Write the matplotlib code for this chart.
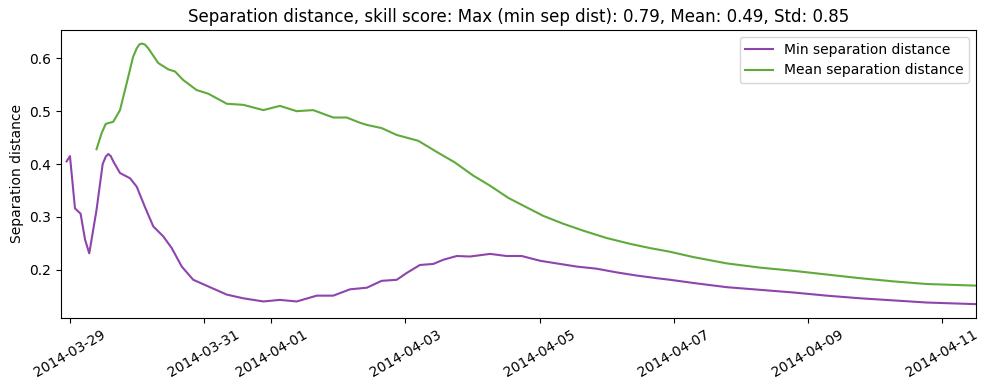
import numpy as np
import matplotlib
matplotlib.use("Agg")
import matplotlib.pyplot as plt
import matplotlib.dates as mdates

## Donnees (heures depuis 2014-03-29 00:00)

t0 = np.datetime64("2014-03-29T00:00")

h_min = [-1.2, 0, 1.8, 3.8, 5.4, 6.9, 9.5, 11.7, 12.8, 13.7, 14.6, 15.5, 17.9,
         21.5, 23.9, 26.8, 29.8, 33.4, 36.4, 40.0, 44.1, 50.1, 56.1, 62.0, 69.2,
         75.1, 81.1, 88.3, 94.2, 100.2, 106.2, 111.5, 116.9, 120.5, 125.2,
         130.0, 133.6, 138.4, 143.1, 150.3, 156.2, 161.6, 168.2, 174.1, 181.3,
         188.4, 195.6, 202.8, 209.9, 214.7, 223.0, 235.0, 246.9, 258.8, 270.7,
         282.7, 294.6, 306.5, 323.8]
d_min = [0.405, 0.415, 0.316, 0.306, 0.257, 0.231, 0.313, 0.400, 0.414, 0.419,
         0.415, 0.405, 0.383, 0.373, 0.357, 0.319, 0.282, 0.263, 0.241, 0.206,
         0.181, 0.167, 0.153, 0.146, 0.140, 0.143, 0.140, 0.151, 0.151, 0.163,
         0.166, 0.179, 0.181, 0.194, 0.209, 0.211, 0.219, 0.226, 0.225, 0.230,
         0.226, 0.226, 0.217, 0.212, 0.206, 0.202, 0.195, 0.189, 0.184, 0.181,
         0.175, 0.167, 0.162, 0.157, 0.151, 0.146, 0.142, 0.138, 0.135]

h_mean = [9.5, 11.3, 12.8, 15.5, 17.9, 20.3, 22.6, 23.9, 24.8, 25.7, 26.8, 28.0,
          31.6, 35.2, 37.6, 40.5, 45.3, 49.5, 56.1, 62.0, 69.2, 75.1, 81.1,
          87.0, 94.2, 99.0, 103.8, 106.2, 111.5, 116.9, 124.6, 131.2, 137.7,
          144.3, 150.3, 156.8, 163.4, 169.3, 176.5, 183.6, 192.0, 200.4, 207.5,
          214.7, 223.0, 235.0, 246.9, 258.8, 270.7, 282.7, 294.6, 306.5, 323.8]
d_mean = [0.428, 0.458, 0.476, 0.480, 0.502, 0.553, 0.603, 0.619, 0.626, 0.628,
          0.626, 0.619, 0.591, 0.579, 0.575, 0.559, 0.540, 0.533, 0.514, 0.512,
          0.502, 0.510, 0.500, 0.502, 0.488, 0.488, 0.478, 0.474, 0.468, 0.455,
          0.444, 0.423, 0.403, 0.378, 0.359, 0.336, 0.318, 0.302, 0.287, 0.274,
          0.260, 0.249, 0.241, 0.234, 0.224, 0.212, 0.204, 0.198, 0.191, 0.184,
          0.178, 0.173, 0.170]

def dates(h):
    return t0 + (np.array(h) * 60).astype("timedelta64[m]")

## Figure

fig = plt.figure(figsize=(9.89, 3.9), dpi=100)
ax = fig.add_axes([0.0617, 0.185, 0.9253, 0.738])
ax.plot(dates(h_min), d_min, color="#8e44ad", solid_joinstyle="round",
        label="Min separation distance")
ax.plot(dates(h_mean), d_mean, color="#5faa3c", solid_joinstyle="round",
        label="Mean separation distance")
ax.set_xlim(dates([-3.2])[0], dates([324.2])[0])
ax.set_ylim(0.109, 0.6535)
ax.xaxis.set_major_locator(mdates.DayLocator(bymonthday=[29, 31, 1, 3, 5, 7, 9, 11]))
ax.xaxis.set_major_formatter(mdates.DateFormatter("%Y-%m-%d"))
plt.setp(ax.get_xticklabels(), rotation=30)
ax.set_ylabel("Separation distance")
ax.set_title("Separation distance, skill score: Max (min sep dist): 0.79, Mean: 0.49, Std: 0.85")
ax.legend(loc="upper right")
fig.savefig("out.png")
